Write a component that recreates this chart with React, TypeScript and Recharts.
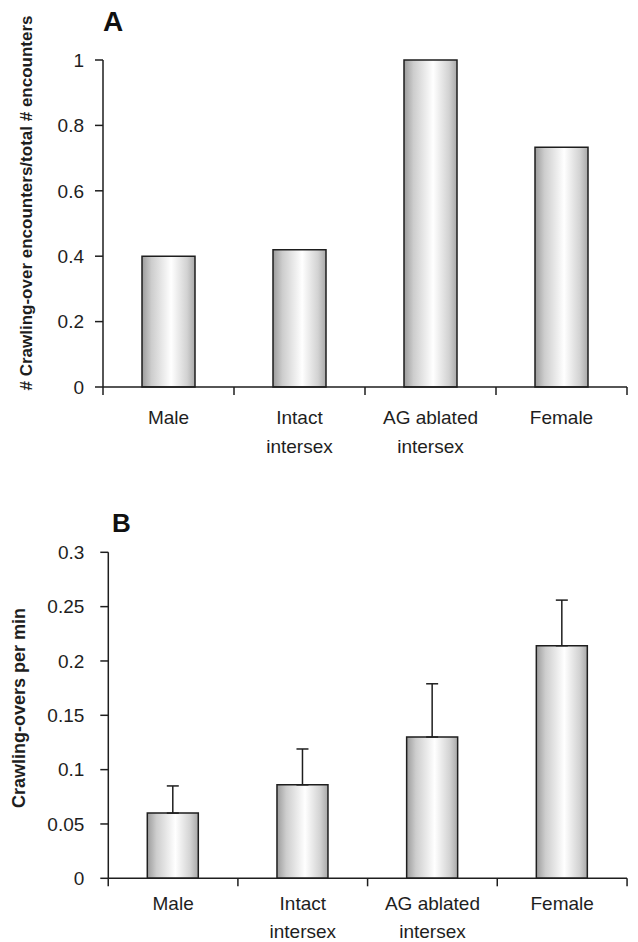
import React from 'react';
import { BarChart, Bar, XAxis, YAxis, ErrorBar } from 'recharts';

// categories (line breaks mark the two-line tick labels)
const categories = ['Male', 'Intact\nintersex', 'AG ablated\nintersex', 'Female'];

// panel A: ratio of crawling-over encounters
const ratioValues = [0.4, 0.42, 1.0, 0.733];
const ratioTicks = [0, 0.2, 0.4, 0.6, 0.8, 1];

// panel B: crawling-overs per minute, with upper error
const rateValues = [0.06, 0.086, 0.13, 0.214];
const rateErrors = [0.025, 0.033, 0.049, 0.042];
const rateTicks = [0, 0.05, 0.1, 0.15, 0.2, 0.25, 0.3];

const dataA = categories.map((name, i) => ({ name, value: ratioValues[i] }));
const dataB = categories.map((name, i) => ({ name, value: rateValues[i], err: [0, rateErrors[i]] }));

const FONT = '"Liberation Sans", Arial, Helvetica, sans-serif';
const INK = '#1e1e1e';

function makeTick(half: number, count: number, line1: number, line2: number) {
    return function CategoryTick(props: any) {
        const { x, y, payload, index } = props;
        const lines = String(payload.value).split('\n');
        return (
            <g>
                <line x1={x - half} y1={y} x2={x - half} y2={y + 8} stroke={INK} strokeWidth={1.5} />
                {index === count - 1 && (
                    <line x1={x + half} y1={y} x2={x + half} y2={y + 8} stroke={INK} strokeWidth={1.5} />
                )}
                {lines.map((l, i) => (
                    <text key={i} x={x} y={y + (i === 0 ? line1 : line2)} textAnchor="middle" fontSize={19} fill={INK} fontFamily={FONT}>
                        {l}
                    </text>
                ))}
            </g>
        );
    };
}

const Gradient = ({ id }: { id: string }) => (
    <defs>
        <linearGradient id={id} x1="0" y1="0" x2="1" y2="0">
            <stop offset="0%" stopColor="#9c9c9c" />
            <stop offset="18%" stopColor="#cdcdcd" />
            <stop offset="55%" stopColor="#ffffff" />
            <stop offset="85%" stopColor="#d2d2d2" />
            <stop offset="100%" stopColor="#a9a9a9" />
        </linearGradient>
    </defs>
);

const yTickStyle = { fontSize: 19, fill: INK, fontFamily: FONT };

export default function App() {
    return (
        <div style={{ position: 'absolute', left: 0, top: 0, width: 638, height: 942, background: '#fff', fontFamily: FONT }}>
            {/* Panel A */}
            <div style={{ position: 'absolute', left: 0, top: 0 }}>
                <BarChart width={638} height={467} data={dataA} margin={{ top: 60, right: 11, left: 0, bottom: 0 }}>
                    <Gradient id="barFillA" />
                    <XAxis
                        dataKey="name"
                        height={80}
                        tickLine={false}
                        tickSize={0}
                        tickMargin={0}
                        interval={0}
                        axisLine={{ stroke: INK, strokeWidth: 1.5 }}
                        tick={makeTick(65.5, categories.length, 37, 66)}
                    />
                    <YAxis
                        width={103}
                        domain={[0, 1]}
                        ticks={ratioTicks}
                        interval={0}
                        tickSize={8}
                        tickMargin={11}
                        tick={yTickStyle}
                        axisLine={{ stroke: INK, strokeWidth: 1.5 }}
                        tickLine={{ stroke: INK, strokeWidth: 1.5 }}
                    />
                    <Bar dataKey="value" barSize={53} fill="url(#barFillA)" stroke={INK} strokeWidth={1.5} isAnimationActive={false} />
                </BarChart>
            </div>
            <div style={{ position: 'absolute', left: 103, top: 8, fontSize: 28, fontWeight: 'bold', lineHeight: '28px', color: '#111' }}>A</div>
            <div style={{ position: 'absolute', left: 27, top: 203, width: 0, height: 0 }}>
                <div style={{ position: 'absolute', transform: 'translate(-50%, -50%) rotate(-90deg)', whiteSpace: 'nowrap', fontSize: 17, fontWeight: 'bold', color: INK }}>
                    # Crawling-over encounters/total # encounters
                </div>
            </div>

            {/* Panel B */}
            <div style={{ position: 'absolute', left: 0, top: 470 }}>
                <BarChart width={638} height={472} data={dataB} margin={{ top: 82.3, right: 11, left: 0, bottom: 0 }}>
                    <Gradient id="barFillB" />
                    <XAxis
                        dataKey="name"
                        height={63.7}
                        tickLine={false}
                        tickSize={0}
                        tickMargin={0}
                        interval={0}
                        axisLine={{ stroke: INK, strokeWidth: 1.5 }}
                        tick={makeTick(64.9, categories.length, 31.5, 59.5)}
                    />
                    <YAxis
                        width={108.3}
                        domain={[0, 0.3]}
                        ticks={rateTicks}
                        interval={0}
                        tickSize={8}
                        tickMargin={16}
                        tick={yTickStyle}
                        axisLine={{ stroke: INK, strokeWidth: 1.5 }}
                        tickLine={{ stroke: INK, strokeWidth: 1.5 }}
                    />
                    <Bar dataKey="value" barSize={51} fill="url(#barFillB)" stroke={INK} strokeWidth={1.5} isAnimationActive={false}>
                        <ErrorBar dataKey="err" direction="y" width={6} stroke={INK} strokeWidth={1.5} />
                    </Bar>
                </BarChart>
            </div>
            <div style={{ position: 'absolute', left: 112, top: 510, fontSize: 26, fontWeight: 'bold', lineHeight: '26px', color: '#111' }}>B</div>
            <div style={{ position: 'absolute', left: 19, top: 708, width: 0, height: 0 }}>
                <div style={{ position: 'absolute', transform: 'translate(-50%, -50%) rotate(-90deg)', whiteSpace: 'nowrap', fontSize: 18, fontWeight: 'bold', color: INK }}>
                    Crawling-overs per min
                </div>
            </div>
        </div>
    );
}
